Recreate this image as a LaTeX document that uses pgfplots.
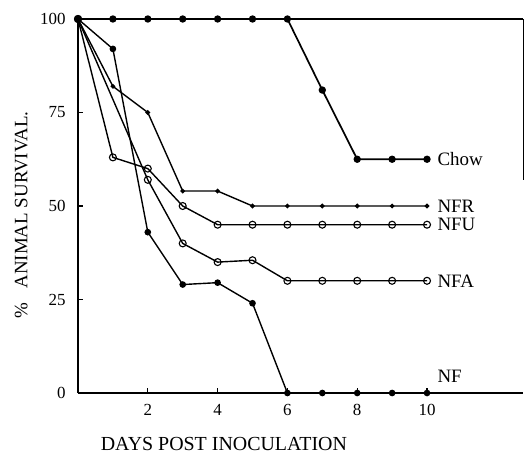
\documentclass[border=0pt]{standalone}
\usepackage{pgfplots}
\pgfplotsset{compat=1.18}
\usepackage{fontspec}
\setmainfont{Liberation Serif}
\begin{document}
\begin{tikzpicture}
\begin{axis}[
  scale only axis,
  width=445bp, height=374bp,
  xmin=0, xmax=12.75, ymin=0, ymax=100,
  axis x line*=bottom, axis y line*=left,
  axis line style={line width=1.4pt, -},
  xtick={2,4,6,8,10}, ytick={0,25,50,75,100},
  tick align=inside, major tick length=5bp,
  tick style={line width=1.2pt, black},
  /pgf/number format/assume math mode=true,
  ticklabel style={font=\fontsize{17}{17}\selectfont},
  xticklabel style={yshift=-8bp},
  yticklabel style={xshift=-9bp},
  clip=false,
  every axis plot/.append style={line width=1.4pt, black},
]
\addplot[line width=1.7pt, mark=*, mark size=2.8pt] coordinates {(0,100)(1,100)(2,100)(3,100)(4,100)(5,100)(6,100)(7,81)(8,62.5)(9,62.5)(10,62.5)};
\addplot[mark=*, mark size=1.6pt] coordinates {(0,100)(1,82)(2,75)(3,54)(4,54)(5,50)(6,50)(7,50)(8,50)(9,50)(10,50)};
\addplot[mark=o, mark size=3.5pt, mark options={fill=white, line width=1.1pt}] coordinates {(0,100)(1,63)(2,60)(3,50)(4,45)(5,45)(6,45)(7,45)(8,45)(9,45)(10,45)};
\addplot[mark=o, mark size=3.5pt, mark options={fill=white, line width=1.1pt}] coordinates {(0,100)(2,57)(3,40)(4,35)(5,35.5)(6,30)(7,30)(8,30)(9,30)(10,30)};
\addplot[mark=*, mark size=2.6pt] coordinates {(0,100)(1,92)(2,43)(3,29)(4,29.5)(5,24)(6,0)(7,0)(8,0)(9,0)(10,0)};
\draw[line width=1.4pt] (axis cs:0,100) -- (axis cs:12.75,100);
\draw[line width=0.8pt] (axis cs:12.75,100) -- (axis cs:12.75,57);
\begin{scope}[font=\fontsize{19}{19}\selectfont]
\node[anchor=west] at (axis cs:10.2,62.5) {Chow};
\node[anchor=west] at (axis cs:10.2,50) {NFR};
\node[anchor=west] at (axis cs:10.2,45) {NFU};
\node[anchor=west] at (axis cs:10.2,30) {NFA};
\node[anchor=west] at (axis cs:10.2,4.5) {NF};
\end{scope}
\node[anchor=base, font=\fontsize{20}{20}\selectfont] at (axis cs:4.18,-15.3) {DAYS POST INOCULATION};
\node[rotate=90, anchor=base, font=\fontsize{19}{19}\selectfont] at (axis cs:-1.45,47.6) {\%\ \ \ ANIMAL SURVIVAL.};
\end{axis}
\pgfresetboundingbox
\path (-78bp,-62bp) rectangle (447bp,393bp);
\end{tikzpicture}
\end{document}
